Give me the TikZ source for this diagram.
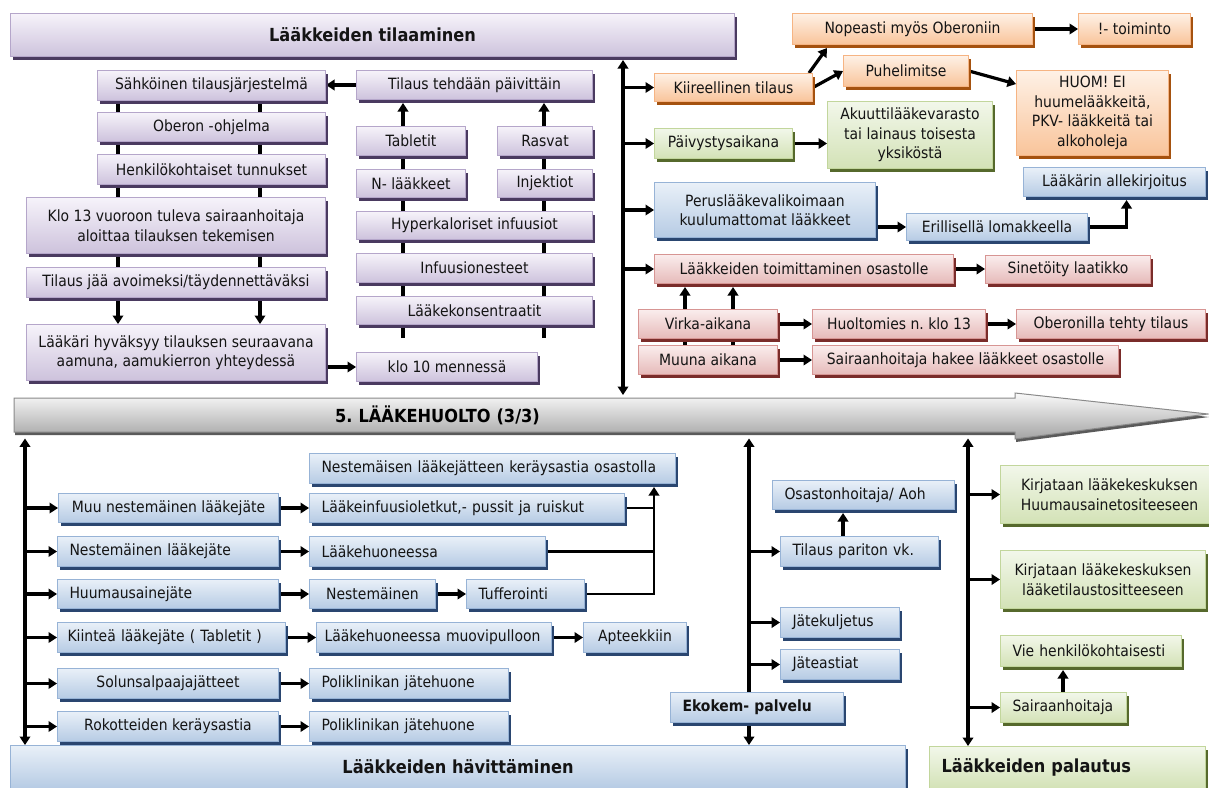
\documentclass[tikz,border=0pt]{standalone}
\usepackage{fontspec}
\setmainfont{DejaVu Sans}[FakeStretch=0.9]
\usetikzlibrary{arrows.meta,shadows,calc}
\pgfdeclarelayer{paper}
\pgfdeclarelayer{links}
\pgfsetlayers{paper,links,main}
\frenchspacing

% box palettes: top / bottom of the gradient, border, shadow
\definecolor{puTop}{HTML}{F6F3FA}
\definecolor{puBot}{HTML}{CDC2DC}
\definecolor{puLine}{HTML}{B5A6CA}
\definecolor{puShad}{HTML}{4A3A60}
\definecolor{orTop}{HTML}{FEF1E6}
\definecolor{orBot}{HTML}{F9C49A}
\definecolor{orLine}{HTML}{F6B483}
\definecolor{orShad}{HTML}{A5520F}
\definecolor{grTop}{HTML}{F2F7EA}
\definecolor{grBot}{HTML}{D3E2B6}
\definecolor{grLine}{HTML}{C2D69C}
\definecolor{grShad}{HTML}{56692C}
\definecolor{blTop}{HTML}{E9F0F8}
\definecolor{blBot}{HTML}{B6CBE4}
\definecolor{blLine}{HTML}{97B3D6}
\definecolor{blShad}{HTML}{2A4670}
\definecolor{rdTop}{HTML}{FAEDED}
\definecolor{rdBot}{HTML}{E6BAB9}
\definecolor{rdLine}{HTML}{D79593}
\definecolor{rdShad}{HTML}{7A2C2A}
\definecolor{arTop}{HTML}{FAFAFA}
\definecolor{arBot}{HTML}{A4A4A4}
\definecolor{arLine}{HTML}{8A8A8A}
\definecolor{arShad}{HTML}{5A5A5A}

\newcommand{\bodyfont}{\fontsize{15.5}{19.5}\selectfont}
\newcommand{\headfont}{\fontsize{18}{22}\selectfont\bfseries}

\begin{document}
\begin{tikzpicture}[x=1pt,y=-1pt,
  box/.style={rectangle, anchor=north west, inner sep=0pt, align=center,
    draw=#1Line, line width=1pt, top color=#1Top, bottom color=#1Bot,
    drop shadow={shadow xshift=2pt, shadow yshift=-3pt, fill=#1Shad, opacity=1},
    font=\bodyfont, text=black!92},
  sz/.style 2 args={minimum width=#1pt, minimum height=#2pt},
  lft/.style={align=left, text width=#1pt, inner xsep=12pt},
  ln/.style={line width=3.2pt, black},
  tip/.tip={Triangle[length=8.5pt,width=10.5pt]},
  arr/.style={ln, -tip},
  darr/.style={ln, tip-tip},
  link/.style={line width=2.3pt, black}
]
\useasboundingbox (0,0) rectangle (1209,787);
\clip (0,0) rectangle (1209,787);
\begin{pgfonlayer}{paper}
  \fill[white] (0,0) rectangle (1209,787);
\end{pgfonlayer}

% ---------- ordering ----------
\node[box=pu, sz={724}{43}, font=\headfont] (tilaaminen) at (10,13) {Lääkkeiden tilaaminen};

\node[box=pu, sz={228}{30}] (sahko) at (97,70) {Sähköinen tilausjärjestelmä};
\node[box=pu, sz={228}{29}] (oberon) at (97,112) {Oberon -ohjelma};
\node[box=pu, sz={228}{30}] (tunnus) at (97,154) {Henkilökohtaiset tunnukset};
\node[box=pu, sz={299}{56}] (klo13) at (26,197) {Klo 13 vuoroon tuleva sairaanhoitaja\\aloittaa tilauksen tekemisen};
\node[box=pu, sz={299}{30}] (avoin) at (26,267) {Tilaus jää avoimeksi/täydennettäväksi};
\node[box=pu, sz={299}{56}] (hyvak) at (26,324) {Lääkäri hyväksyy tilauksen seuraavana\\aamuna, aamukierron yhteydessä};
\node[box=pu, sz={181}{29}] (klo10) at (356,352) {klo 10 mennessä};

\node[box=pu, sz={236}{29}] (paivit) at (356,70) {Tilaus tehdään päivittäin};
\node[box=pu, sz={109}{29}] (tabl) at (356,126) {Tabletit};
\node[box=pu, sz={95}{29}] (rasv) at (497,126) {Rasvat};
\node[box=pu, sz={109}{28}] (nlaak) at (356,169) {N- lääkkeet};
\node[box=pu, sz={95}{28}] (injek) at (497,169) {Injektiot};
\node[box=pu, sz={236}{28}] (hyper) at (356,211) {Hyperkaloriset infuusiot};
\node[box=pu, sz={236}{29}] (infuus) at (356,253) {Infuusionesteet};
\node[box=pu, sz={236}{28}] (konsen) at (356,296) {Lääkekonsentraatit};

\node[box=or, sz={240}{31}] (nopea) at (792,13) {Nopeasti myös Oberoniin};
\node[box=or, sz={112}{31}] (huutom) at (1078,13) {!- toiminto};
\node[box=or, sz={158}{28}] (kiire) at (654,73) {Kiireellinen tilaus};
\node[box=or, sz={125}{31}] (puhel) at (843,55) {Puhelimitse};
\node[box=or, sz={152}{85}] (huom) at (1016,70) {HUOM! EI\\huumelääkkeitä,\\PKV- lääkkeitä tai\\alkoholeja};

\node[box=gr, sz={138}{30}] (paivys) at (654,128) {Päivystysaikana};
\node[box=gr, sz={165}{67}] (akuutti) at (827,101) {Akuuttilääkevarasto\\tai lainaus toisesta\\yksiköstä};

\node[box=bl, sz={221}{55}] (perus) at (654,182) {Peruslääkevalikoimaan\\kuulumattomat lääkkeet};
\node[box=bl, sz={181}{27}] (lomake) at (906,213) {Erillisellä lomakkeella};
\node[box=bl, sz={182}{29}] (allek) at (1023,167) {Lääkärin allekirjoitus};

\node[box=rd, sz={299}{29}] (toimit) at (654,254) {Lääkkeiden toimittaminen osastolle};
\node[box=rd, sz={165}{28}] (sinet) at (985,255) {Sinetöity laatikko};
\node[box=rd, sz={139}{29}] (virka) at (638,309) {Virka-aikana};
\node[box=rd, sz={173}{29}] (huoltom) at (812,309) {Huoltomies n. klo 13};
\node[box=rd, sz={189}{29}] (obtil) at (1016,309) {Oberonilla tehty tilaus};
\node[box=rd, sz={139}{29}] (muuna) at (638,345) {Muuna aikana};
\node[box=rd, sz={306}{29}] (hakee) at (812,345) {Sairaanhoitaja hakee lääkkeet osastolle};

% ---------- main process arrow ----------
\path[draw=arLine, line width=1pt, top color=arTop, bottom color=arBot,
  drop shadow={shadow xshift=1pt, shadow yshift=-3pt, fill=arShad, opacity=1}]
  (14,398) -- (1015,398) -- (1015,393) -- (1208,414) -- (1015,439) -- (1015,432) -- (14,432) -- cycle;
\node[anchor=north west, minimum width=1001pt, minimum height=34pt, inner sep=0pt,
  inner xsep=321pt, text width=359pt, align=left, font=\headfont] (huolto) at (14,398) {5. LÄÄKEHUOLTO (3/3)};

% ---------- disposal ----------
\node[box=bl, sz={895}{43}, font=\headfont] (havit) at (10,745) {Lääkkeiden hävittäminen};

\node[box=bl, sz={366}{30}, lft=342] (keray) at (309,453) {Nestemäisen lääkejätteen keräysastia osastolla};
\node[box=bl, sz={220}{29}] (muu) at (58,493) {Muu nestemäinen lääkejäte};
\node[box=bl, sz={315}{29}, lft=291] (letkut) at (309,493) {Lääkeinfuusioletkut,- pussit ja ruiskut};
\node[box=bl, sz={221}{30}, lft=197] (nest1) at (57,536) {Nestemäinen lääkejäte};
\node[box=bl, sz={236}{30}, lft=212] (lhuone) at (309,536) {Lääkehuoneessa};
\node[box=bl, sz={221}{29}, lft=197] (huume) at (57,579) {Huumausainejäte};
\node[box=bl, sz={126}{29}] (nest2) at (309,579) {Nestemäinen};
\node[box=bl, sz={118}{29}, lft=94] (tuffer) at (466,579) {Tufferointi};
\node[box=bl, sz={228}{30}, lft=208, inner xsep=10pt] (kiint) at (57,622) {Kiinteä lääkejäte ( Tabletit )};
\node[box=bl, sz={235}{30}, lft=219, inner xsep=8pt] (muovi) at (316,622) {Lääkehuoneessa muovipulloon};
\node[box=bl, sz={103}{30}] (aptk) at (583,622) {Apteekkiin};
\node[box=bl, sz={221}{30}] (solu) at (57,668) {Solunsalpaajajätteet};
\node[box=bl, sz={199}{30}, lft=175] (poli1) at (309,668) {Poliklinikan jätehuone};
\node[box=bl, sz={221}{30}] (rokot) at (57,711) {Rokotteiden keräysastia};
\node[box=bl, sz={199}{30}, lft=175] (poli2) at (309,711) {Poliklinikan jätehuone};

\node[box=bl, sz={182}{29}, lft=158] (osasto) at (772,480) {Osastonhoitaja/ Aoh};
\node[box=bl, sz={158}{30}, lft=134] (pariton) at (780,536) {Tilaus pariton vk.};
\node[box=bl, sz={119}{30}, lft=95] (kulj) at (780,607) {Jätekuljetus};
\node[box=bl, sz={119}{30}, lft=95] (astiat) at (780,649) {Jäteastiat};
\node[box=bl, sz={173}{30}, lft=149, font=\bodyfont\bfseries] (ekokem) at (670,692) {Ekokem- palvelu};

% ---------- returns ----------
\node[box=gr, sz={276}{42}, lft=252, font=\headfont] (palaut) at (929,746) {Lääkkeiden palautus};
\node[box=gr, sz={218}{58}] (kirj1) at (1000,465) {Kirjataan lääkekeskuksen\\Huumausainetositeeseen};
\node[box=gr, sz={205}{58}] (kirj2) at (1000,550) {Kirjataan lääkekeskuksen\\lääketilaustositteeseen};
\node[box=gr, sz={181}{31}, lft=157] (vie) at (1000,635) {Vie henkilökohtaisesti};
\node[box=gr, sz={126}{30}, lft=102] (sairh) at (1000,692) {Sairaanhoitaja};

% ---------- connectors ----------
\begin{pgfonlayer}{links}
  % ordering steps
  \coordinate (cA) at (118,0);
  \coordinate (cB) at (260,0);
  \draw[arr] (sahko.south -| cA) -- (hyvak.north -| cA);
  \draw[arr] (sahko.south -| cB) -- (hyvak.north -| cB);
  \draw[arr] (paivit.west) -- (paivit.west -| sahko.east);
  \draw[arr] (klo10.west -| hyvak.east) -- (klo10.west);
  % product groups
  \coordinate (gA) at (403,338);
  \coordinate (gB) at (544,338);
  \draw[arr, shorten >=3pt] (gA) -- (gA |- paivit.south);
  \draw[arr, shorten >=3pt] (gB) -- (gB |- paivit.south);

  % ordering trunk
  \coordinate (tT) at (623,0);
  \draw[darr, shorten <=3pt, shorten >=3pt] (tilaaminen.south -| tT) -- (huolto.north -| tT);
  \foreach \n in {kiire,paivys,perus,toimit}
    \draw[arr] (\n.west -| tT) -- (\n.west);
  \draw[arr] ([xshift=-4pt]kiire.north east) -- ([xshift=35pt,yshift=-3pt]nopea.south west);
  \draw[arr] (kiire.east) -- (puhel.west);
  \draw[arr] (puhel.east) -- ([yshift=-14pt]huom.north west);
  \draw[arr] (nopea.east) -- (huutom.west);
  \draw[arr] (paivys.east) -- (paivys.east -| akuutti.west);
  \draw[arr] (lomake.west -| perus.east) -- (lomake.west);
  \draw[arr, shorten >=3pt] (lomake.east) -| ([xshift=12pt]allek.south);
  \draw[arr] (toimit.east) -- (toimit.east -| sinet.west);
  \draw[arr] (virka.east) -- (huoltom.west);
  \draw[arr] (huoltom.east) -- (obtil.west);
  \draw[arr] (muuna.east) -- (hakee.west);
  \coordinate (rA) at (685,0);
  \coordinate (rB) at (733,0);
  \draw[arr, shorten >=3pt] (muuna.north -| rA) -- (toimit.south -| rA);
  \draw[arr, shorten >=3pt] (muuna.north -| rB) -- (toimit.south -| rB);

  % disposal trunk
  \coordinate (bL) at (25,0);
  \draw[darr, shorten <=6pt] (huolto.south -| bL) -- (havit.north -| bL);
  \foreach \n in {muu,nest1,huume,kiint,solu,rokot}
    \draw[arr] (\n.west -| bL) -- (\n.west);
  \draw[arr] (muu.east) -- (muu.east -| letkut.west);
  \draw[arr] (nest1.east) -- (nest1.east -| lhuone.west);
  \draw[arr] (huume.east) -- (huume.east -| nest2.west);
  \draw[arr] (nest2.east) -- (nest2.east -| tuffer.west);
  \draw[arr] (kiint.east) -- (kiint.east -| muovi.west);
  \draw[arr] (muovi.east) -- (muovi.east -| aptk.west);
  \draw[arr] (solu.east) -- (solu.east -| poli1.west);
  \draw[arr] (rokot.east) -- (rokot.east -| poli2.west);
  \coordinate (kX) at (654,0);
  \draw[link] (letkut.east) -- (letkut.east -| kX);
  \draw[link] (lhuone.east) -- (lhuone.east -| kX);
  \draw[link, -tip, shorten >=3pt] (tuffer.east) -| (keray.south -| kX);

  % Ekokem service
  \coordinate (bM) at (749,0);
  \draw[darr, shorten <=6pt] (huolto.south -| bM) -- (havit.north -| bM);
  \foreach \n in {pariton,kulj,astiat}
    \draw[arr] (\n.west -| bM) -- (\n.west);
  \coordinate (pX) at (843,0);
  \draw[arr, shorten >=3pt] (pariton.north -| pX) -- (osasto.south -| pX);

  % returns trunk
  \coordinate (bR) at (968,0);
  \draw[darr, shorten <=6pt] (huolto.south -| bR) -- (palaut.north -| bR);
  \foreach \n in {kirj1,kirj2,sairh}
    \draw[arr] (\n.west -| bR) -- (\n.west);
  \coordinate (vX) at (1063,0);
  \draw[arr, shorten >=3pt] (sairh.north -| vX) -- (vie.south -| vX);
\end{pgfonlayer}
\end{tikzpicture}
\end{document}
